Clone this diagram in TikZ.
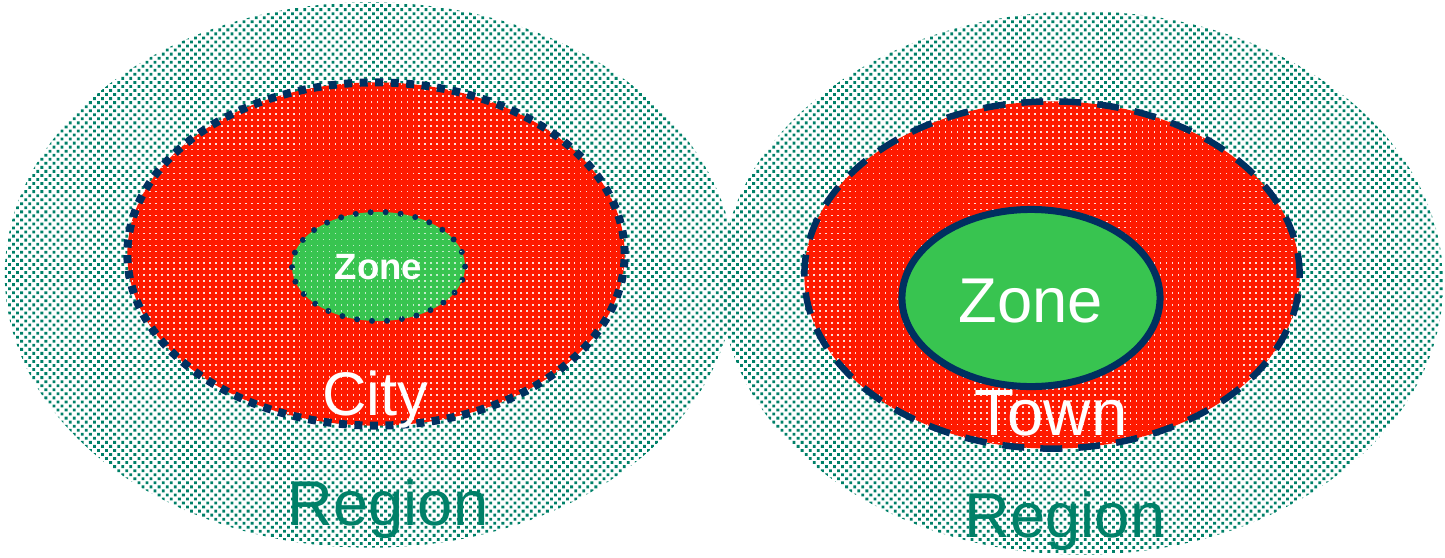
\documentclass[tikz,border=0pt]{standalone}
\usepackage{fontspec}
\setmainfont{Liberation Sans}
\usepackage{tikz}
\usetikzlibrary{shapes.geometric,patterns}
\usepackage{xcolor}

\definecolor{regionteal}{RGB}{0,128,104}
\definecolor{cityred}{RGB}{255,26,0}
\definecolor{zonegreen}{RGB}{56,196,80}
\definecolor{rimnavy}{RGB}{0,48,96}

% dot fills
\pgfdeclarepatternformonly{regiondots}{\pgfqpoint{-0.1pt}{-0.1pt}}{\pgfqpoint{2.4pt}{2.4pt}}{\pgfqpoint{2.3pt}{2.3pt}}{%
  \pgfpathrectangle{\pgfqpoint{0pt}{0pt}}{\pgfqpoint{0.8pt}{0.8pt}}%
  \pgfpathrectangle{\pgfqpoint{1.15pt}{1.15pt}}{\pgfqpoint{0.8pt}{0.8pt}}%
  \pgfusepath{fill}}
\pgfdeclarepatternformonly{whitedots}{\pgfqpoint{-0.1pt}{-0.1pt}}{\pgfqpoint{1.8pt}{1.8pt}}{\pgfqpoint{1.7pt}{1.7pt}}{%
  \pgfpathrectangle{\pgfqpoint{0pt}{0pt}}{\pgfqpoint{0.45pt}{0.45pt}}%
  \pgfusepath{fill}}

\begin{document}
\begin{tikzpicture}[
  x=0.01cm, y=-0.01cm,
  region/.style={ellipse, inner sep=0pt, outer sep=0pt, pattern=regiondots, pattern color=regionteal},
  city/.style={ellipse, inner sep=0pt, outer sep=0pt, preaction={fill=cityred},
    pattern=whitedots, pattern color=white!85!cityred},
  zone/.style={ellipse, inner sep=0pt, outer sep=0pt, fill=zonegreen},
  biglabel/.style={font=\fontsize{17.5}{21}\selectfont, text=white, anchor=base, inner sep=0pt},
  regionlabel/.style={font=\fontsize{18}{21}\selectfont, text=regionteal, anchor=base, inner sep=0pt}
]
  \useasboundingbox (0,0) rectangle (1445,557);

  % Two regions
  \node[region, minimum width=7.30cm, minimum height=5.45cm] (regl) at (370,275) {};
  \node[region, minimum width=7.22cm, minimum height=5.43cm] (regr) at (1082,283) {};

  % Left: city with square-dotted rim
  \node[city, minimum width=4.97cm, minimum height=3.43cm,
    draw=rimnavy, line width=0.08cm, dash pattern=on 0.08cm off 0.075cm] (city) at (376,254) {};
  \node[zone, minimum width=1.73cm, minimum height=1.09cm, draw=rimnavy, line width=0.06cm,
    line cap=round, dash pattern=on 0pt off 0.15cm,
    postaction={pattern=whitedots, pattern color=white!70!zonegreen}] (zonel) at (378.5,266.5) {};

  % Right: town with dashed rim
  \node[city, minimum width=4.95cm, minimum height=3.47cm,
    draw=rimnavy, line width=0.065cm, dash pattern=on 0.22cm off 0.16cm] (town) at (1052,275) {};
  \node[zone, minimum width=2.58cm, minimum height=1.77cm, draw=rimnavy, line width=0.07cm] (zoner) at (1031,298) {};

  % Labels
  \node[font=\fontsize{10.4}{12}\selectfont\bfseries, text=white, anchor=base, inner sep=0pt] (zonelt) at (378.5,279) {Zone};
  \node[biglabel] (citylt) at (375,415) {City};
  \node[biglabel, font=\fontsize{18}{21}\selectfont] (zonert) at (1031,322) {Zone};
  \node[biglabel, font=\fontsize{18.6}{22}\selectfont] (townlt) at (1051,435) {Town};
  \node[regionlabel] (reglt) at (388,525) {Region};
  \node[regionlabel] (regrt) at (1065,537) {Region};
\end{tikzpicture}
\end{document}
